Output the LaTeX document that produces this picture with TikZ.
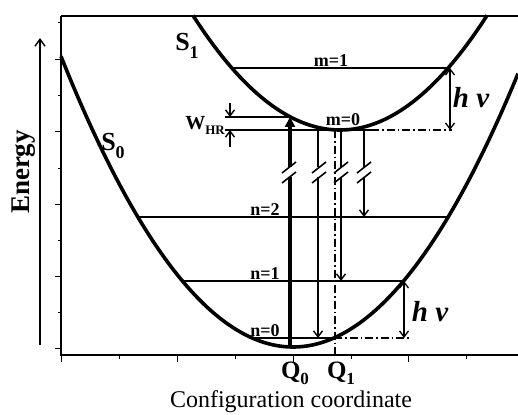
\documentclass[tikz,border=0pt]{standalone}
\usepackage{fontspec}
\setmainfont{Liberation Serif}
\usetikzlibrary{arrows.meta}
\begin{document}
\begin{tikzpicture}[x=1pt,y=-1pt,
  curve/.style={line width=3.6pt,line join=round},
  levelline/.style={line width=1.8pt},
  frameline/.style={line width=1.2pt},
  tickline/.style={line width=1pt},
  thinarrow/.style={line width=1.6pt,-{Straight Barb[length=6pt,width=9pt,line width=1.4pt]}},
  dblarrow/.style={line width=1.4pt,{Straight Barb[length=6pt,width=9pt,line width=1.3pt]}-{Straight Barb[length=6pt,width=9pt,line width=1.3pt]}},
  thinline/.style={line width=1.6pt},
  slash/.style={line width=1.6pt},
  dashdot/.style={line width=1.4pt,dash pattern=on 8pt off 3pt on 1.5pt off 3pt},
  lvllabel/.style={font=\bfseries\fontsize{18}{18}\selectfont,inner sep=0pt},
  biglabel/.style={font=\bfseries\fontsize{26}{26}\selectfont,inner sep=0pt},
  qlabel/.style={font=\bfseries\fontsize{25}{25}\selectfont,inner sep=0pt},
  hnu/.style={font=\bfseries\itshape\fontsize{29}{29}\selectfont,inner sep=0pt}]
\useasboundingbox (0,0) rectangle (518,414);

% frame and axes
\draw[frameline] (61,16) -- (518,16);
\draw[frameline] (61,16) -- (61,355) -- (518,355);
\foreach \yy in {348,276,204,132,60} \draw[tickline] (55,\yy) -- (61,\yy);
\foreach \yy in {312,240,168,96,23} \draw[tickline] (58,\yy) -- (61,\yy);
\foreach \xx in {61,177,293,408} \draw[tickline] (\xx,355) -- (\xx,362);
\foreach \xx in {119,235,351,466} \draw[tickline] (\xx,355) -- (\xx,359);

% energy arrow
\coordinate (eb) at (40,345);
\coordinate (et) at (40,38);
\draw[line width=1.6pt,-{Straight Barb[length=7pt,width=10pt,line width=1.4pt]}] (eb) -- (et);
\node[font=\bfseries\fontsize{27}{27}\selectfont,rotate=90,inner sep=0pt] (energy) at (24,172) {Energy};

% potential curves
\draw[curve] plot[domain=61:518,samples=120,smooth] (\x,{347-(0.07348*(\x-293))*(0.07348*(\x-293))});
\draw[curve] plot[domain=193:487,samples=100,smooth] (\x,{130-(0.0728*(\x-340))*(0.0728*(\x-340))});

% vibrational levels
\coordinate (n2L) at (138,217); \coordinate (n2R) at (448,217);
\coordinate (n1L) at (182,281); \coordinate (n1R) at (403.6,281);
\coordinate (n0L) at (252,338); \coordinate (n0R) at (334,338);
\coordinate (n0E) at (410,338);
\coordinate (m1L) at (232,68); \coordinate (m1R) at (448,68);
\coordinate (m0L) at (225,130); \coordinate (m0R) at (371,130);
\coordinate (m0E) at (452,130);
\coordinate (wL) at (225,117); \coordinate (wR) at (290,117);
\draw[levelline] (n2L) -- (n2R);
\draw[levelline] (n1L) -- (n1R);
\draw[levelline] (n0L) -- (n0R);
\draw[levelline] (m1L) -- (m1R);
\draw[levelline] (m0L) -- (m0R);
\draw[levelline] (wL) -- (wR);
\draw[dashdot] (n0R) -- (n0E);
\draw[dashdot] (m0R) -- (m0E);

% level labels
\node[lvllabel] (lm1) at (331,61) {m=1};
\node[lvllabel] (lm0) at (343,120) {m=0};
\node[lvllabel] (ln2) at (265,210) {n=2};
\node[lvllabel] (ln1) at (265,274) {n=1};
\node[lvllabel] (ln0) at (265,331) {n=0};

% absorption (thick) arrow with break
\coordinate (a0) at (290,347);
\coordinate (a1) at (290,117);
\draw[line width=4.5pt] (a0) -- (290,177);
\draw[line width=4.5pt,-{Triangle[length=10pt,width=10pt]}] (290,167) -- (a1);

% emission arrows with breaks
\draw[thinline] (318,130) -- (318,167);
\draw[thinarrow] (318,177) -- (318,338);
\draw[thinline] (341,130) -- (341,167);
\draw[thinarrow] (341,177) -- (341,281);
\draw[thinline] (364,130) -- (364,167);
\draw[thinarrow] (364,177) -- (364,217);

% break slashes
\foreach \xx in {289,319,341,364} {
  \draw[slash] (\xx-7,173) -- (\xx+7,162);
  \draw[slash] (\xx-7,183) -- (\xx+7,172);
}

% Q1 dash-dot vertical
\coordinate (q1t) at (335,130);
\coordinate (q1b) at (335,355);
\draw[dashdot] (q1t) -- (q1b);

% h nu arrows
\coordinate (hu1) at (450,68); \coordinate (hu2) at (450,130);
\coordinate (hl1) at (404,281); \coordinate (hl2) at (404,338);
\draw[dblarrow] (hu1) -- (hu2);
\draw[dblarrow] (hl1) -- (hl2);
\node[hnu] (hnuU) at (471,98) {h ν};
\node[hnu] (hnuL) at (430,312) {h ν};

% W_HR
\draw[thinarrow,line width=1.3pt] (230,103) -- (230,117);
\draw[thinarrow,line width=1.3pt] (230,147) -- (230,130);
\node[inner sep=0pt] (whr) at (205,125) {\bfseries\fontsize{20}{20}\selectfont W\raisebox{-0.25em}{\fontsize{13}{13}\selectfont HR}};

% curve labels
\node[biglabel] (s0) at (113,146) {S\raisebox{-0.3em}{\fontsize{18}{18}\selectfont 0}};
\node[biglabel] (s1) at (187,46) {S\raisebox{-0.3em}{\fontsize{18}{18}\selectfont 1}};

% axis labels
\node[qlabel] (q0) at (295,373) {Q\raisebox{-0.25em}{\fontsize{17}{17}\selectfont 0}};
\node[qlabel] (q1) at (341,373) {Q\raisebox{-0.25em}{\fontsize{17}{17}\selectfont 1}};
\node[font=\fontsize{24}{24}\selectfont,inner sep=0pt] (cc) at (291,402) {Configuration coordinate};
\end{tikzpicture}
\end{document}
